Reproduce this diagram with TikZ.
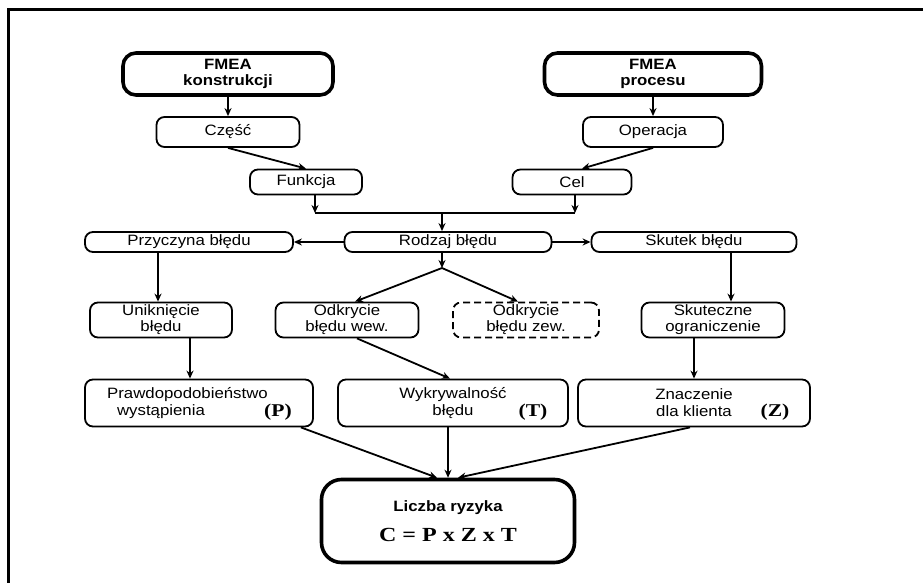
\documentclass[tikz,border=0pt]{standalone}
\usepackage{fontspec}
\setmainfont{Liberation Sans}[FakeStretch=1.12]
\newfontfamily\szeryf{Liberation Serif}[FakeStretch=1.2]
\usetikzlibrary{arrows.meta}

\begin{document}
\begin{tikzpicture}[x=1pt,y=-1pt,line width=1.8pt,
  every node/.style={font=\fontsize{15}{16}\selectfont,align=center,inner sep=0pt},
  ramka/.style={draw,rounded corners=8pt},
  gruba/.style={draw,line width=3.6pt,rounded corners=13pt,font=\fontsize{15}{15.5}\selectfont\bfseries},
  znak/.style={font=\fontsize{18}{18}\selectfont\szeryf\bfseries},
  >={Stealth[length=8pt,width=7pt]}]
\useasboundingbox (0,0) rectangle (923,583);
\draw[line width=3pt] (923,10) -- (8,10) -- (8,583);
\node[gruba,minimum width=210pt,minimum height=42pt] (fmeaK) at (228,74) {FMEA\\konstrukcji};
\node[gruba,minimum width=217pt,minimum height=42pt] (fmeaP) at (653,74) {FMEA\\procesu};
\node[ramka,minimum width=143pt,minimum height=30pt] (czesc) at (228,132) {Część};
\node[ramka,minimum width=140pt,minimum height=30pt] (operacja) at (653,132) {Operacja};
\node[ramka,minimum width=112pt,minimum height=25pt] (funkcja) at (306,182) {Funkcja};
\node[ramka,minimum width=119pt,minimum height=25pt] (cel) at (572,182) {Cel};
\node[ramka,minimum width=207pt,minimum height=20pt] (rodzaj) at (448,242) {Rodzaj błędu};
\node[ramka,minimum width=208pt,minimum height=20pt] (przyczyna) at (189,242) {Przyczyna błędu};
\node[ramka,minimum width=205pt,minimum height=20pt] (skutek) at (694,242) {Skutek błędu};
\node[ramka,minimum width=142pt,minimum height=35pt] (unik) at (161,320) {Uniknięcie\\błędu};
\node[ramka,minimum width=143pt,minimum height=35pt] (odkW) at (347,320) {Odkrycie\\błędu wew.};
\node[ramka,dash pattern=on 7pt off 4pt,minimum width=146pt,minimum height=35pt] (odkZ) at (526,320) {Odkrycie\\błędu zew.};
\node[ramka,minimum width=143pt,minimum height=35pt] (skut) at (713,320) {Skuteczne\\ograniczenie};
\node[ramka,minimum width=228pt,minimum height=47pt,font=\fontsize{15}{17}\selectfont] (prawd) at (199,403) {Prawdopodobieństwo\hspace*{23pt}\\wystąpienia\hspace*{76pt}};
\node[ramka,minimum width=230pt,minimum height=47pt,font=\fontsize{15}{17}\selectfont] (wykr) at (453,403) {Wykrywalność\\błędu};
\node[ramka,minimum width=232pt,minimum height=47pt,font=\fontsize{15}{17}\selectfont] (znacz) at (694,403) {Znaczenie\\dla klienta};
\node[znak] (lP) at (278,412) {(P)};
\node[znak] (lT) at (533,412) {(T)};
\node[znak] (lZ) at (775,412) {(Z)};
\node[gruba,minimum width=253pt,minimum height=83pt,rounded corners=20pt] (liczba) at (448,521) {Liczba ryzyka\\[12pt]{\szeryf\fontsize{20}{20}\selectfont C = P x Z x T}};
\coordinate (zbL) at (315,213);
\coordinate (zbP) at (575,213);
\coordinate (zbS) at (442,213);
\coordinate (rozw) at (442,268);
\draw[->] (fmeaK.south) -- (czesc.north);
\draw[->] (czesc.south) -- (funkcja.north);
\draw[->] (fmeaP.south) -- (operacja.north);
\draw[->] (operacja.south) -- ([xshift=10pt]cel.north);
\draw[->] (funkcja.south -| zbL) -- (zbL);
\draw[->] (cel.south -| zbP) -- (zbP);
\draw (zbL) -- (zbP);
\draw[->] (zbS) -- (zbS |- rodzaj.north);
\draw[->] (rodzaj) -- (przyczyna);
\draw[->] (rodzaj) -- (skutek);
\draw[->] (rozw |- rodzaj.south) -- (rozw);
\draw[->] (rozw) -- ([xshift=8pt]odkW.north);
\draw[->] (rozw) -- ([xshift=-8pt]odkZ.north);
\draw[->] ([xshift=-3pt]unik.north |- przyczyna.south) -- ([xshift=-3pt]unik.north);
\draw[->] ([xshift=29pt]unik.south) -- ([xshift=29pt]unik.south |- prawd.north);
\draw[->] ([xshift=10pt]odkW.south) -- ([xshift=-3pt]wykr.north);
\draw[->] ([xshift=18pt]skut.north |- skutek.south) -- ([xshift=18pt]skut.north);
\draw[->] (skut.south -| znacz.north) -- (znacz.north);
\draw[->] ([xshift=-13pt]prawd.south east) -- ([xshift=-11pt]liczba.north);
\draw[->] (wykr.south -| liczba.north) -- (liczba.north);
\draw[->] ([xshift=-4pt]znacz.south) -- ([xshift=10pt]liczba.north);
\end{tikzpicture}
\end{document}
